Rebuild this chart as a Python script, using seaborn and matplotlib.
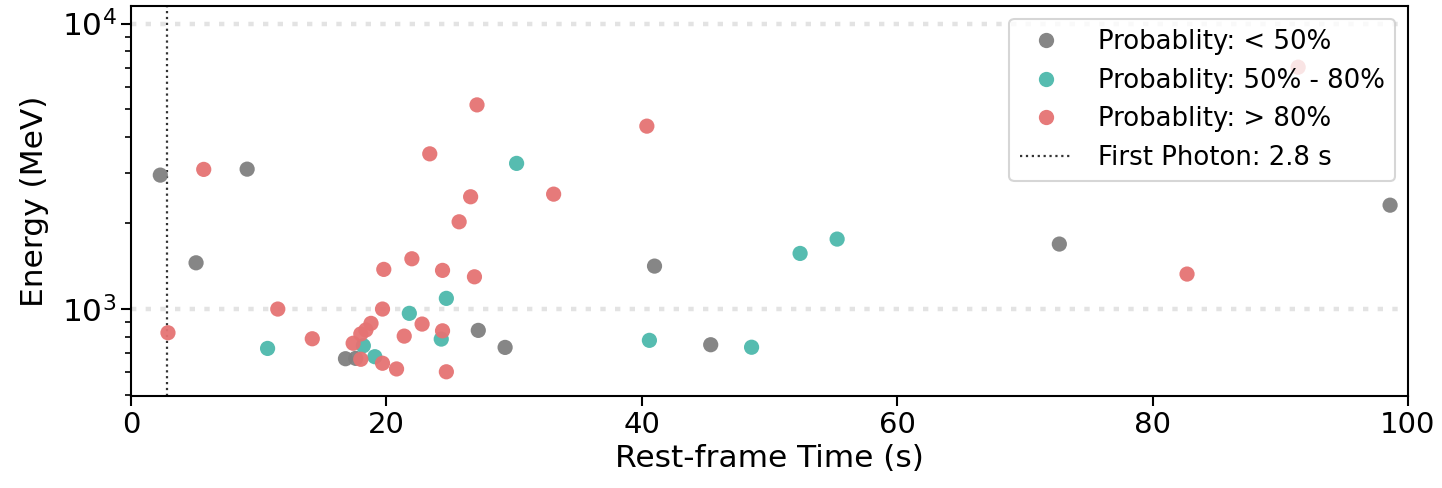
import numpy as np
import pandas as pd
import matplotlib
matplotlib.use("Agg")
import matplotlib.pyplot as plt
from matplotlib.lines import Line2D
import seaborn as sns

# Photon arrival times (rest frame, s) and energies (MeV) by association probability
low_time = [2.3, 9.1, 5.1, 16.8, 17.6, 27.2, 29.3, 41.0, 45.4, 72.7, 98.6]
low_energy = [2945, 3090, 1452, 670, 672, 842, 734, 1414, 750, 1689, 2311]

mid_time = [10.7, 18.2, 19.1, 21.8, 24.7, 24.3, 30.2, 40.6, 48.6, 52.4, 55.3]
mid_energy = [728, 744, 681, 966, 1090, 785, 3237, 777, 735, 1566, 1758]

high_time = [2.9, 5.7, 11.5, 14.2, 17.4, 18.0, 18.0, 18.4, 18.8, 19.7, 20.8,
             19.7, 19.8, 22.0, 21.4, 22.8, 24.4, 24.7, 24.4, 26.9, 25.7, 26.6,
             23.4, 27.1, 40.4, 33.1, 82.7, 91.4]
high_energy = [826, 3084, 1000, 787, 759, 667, 818, 845, 891, 646, 617,
               1000, 1377, 1500, 804, 886, 839, 603, 1366, 1297, 2021, 2473,
               3496, 5188, 4371, 2526, 1326, 7031]

categories = ["Probablity: < 50%", "Probablity: 50% - 80%", "Probablity: > 80%"]
colors = ["#808080", "#4db9ac", "#e57373"]
first_photon = 2.8

df = pd.DataFrame({
    "time": low_time + mid_time + high_time,
    "energy": low_energy + mid_energy + high_energy,
    "group": [categories[0]] * len(low_time)
             + [categories[1]] * len(mid_time)
             + [categories[2]] * len(high_time),
})

sns.set_style("ticks")
plt.rcParams["font.family"] = ["DejaVu Sans"]
plt.rcParams.update({"text.color": "black", "axes.labelcolor": "black",
                     "xtick.color": "black", "ytick.color": "black"})

fig = plt.figure(figsize=(14.42, 4.88), dpi=100)
ax = fig.add_axes([0.0908, 0.1885, 0.8856, 0.7995])

ax.set_yscale("log")
for yv in (1e3, 1e4):
    ax.axhline(yv, color="#e3e3e3", lw=3.2, ls=(0, (1.2, 2.1)), zorder=0)

sns.scatterplot(data=df, x="time", y="energy", hue="group",
                hue_order=categories, palette=dict(zip(categories, colors)),
                s=120, linewidth=0, alpha=0.95, ax=ax, legend=False, zorder=3)

ax.axvline(first_photon, color="#333333", lw=1.6, ls=":", zorder=2)

ax.set_xlim(0, 100)
ax.set_ylim(496, 11530)
ax.set_xlabel("Rest-frame Time (s)", fontsize=22.5)
ax.set_ylabel("Energy (MeV)", fontsize=22.5, labelpad=9)
ax.tick_params(axis="both", which="major", labelsize=21, length=7, width=1.5,
               color="black", labelcolor="black")
ax.tick_params(axis="y", which="major", labelsize=22.5)
ax.tick_params(axis="y", which="minor", length=4, width=1.2, color="black")
for sp in ax.spines.values():
    sp.set_linewidth(1.5)
    sp.set_color("black")

handles = [Line2D([], [], marker="o", ls="", color=c, markersize=11,
                  markeredgewidth=0, alpha=0.95) for c in colors]
handles.append(Line2D([], [], color="#333333", lw=1.6, ls=":"))
labels = categories + [f"First Photon: {first_photon} s"]
leg = ax.legend(handles, labels, loc="upper right", fontsize=18.7,
                frameon=True, framealpha=0.8, edgecolor="#cccccc",
                borderaxespad=0.5, handlelength=2.0, handletextpad=1.0,
                labelspacing=0.48, borderpad=0.4)
leg.get_frame().set_linewidth(1.5)
leg.set_zorder(5)

fig.savefig("out.png", dpi=100)
